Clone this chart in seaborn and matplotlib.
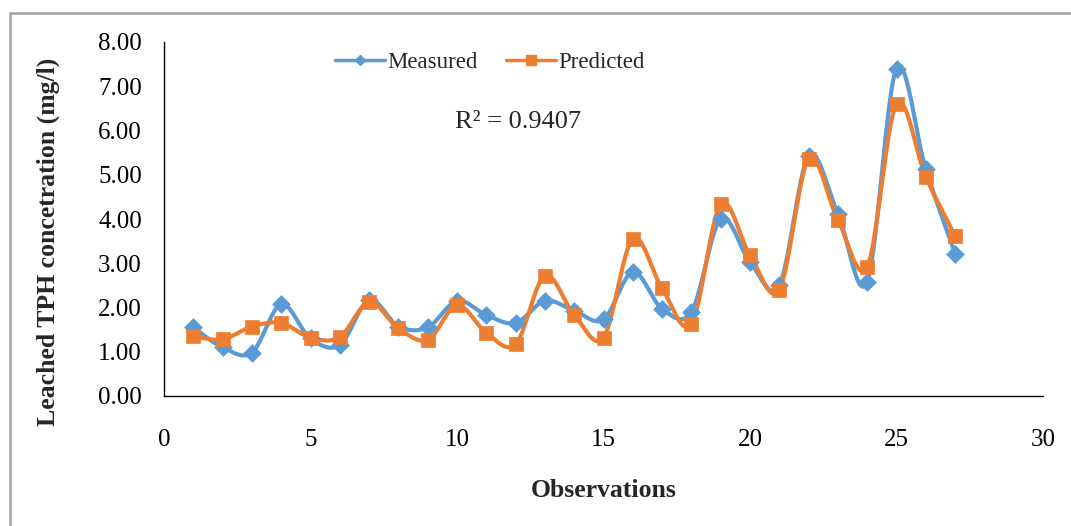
import numpy as np
import pandas as pd
import matplotlib
matplotlib.use("Agg")
import matplotlib.pyplot as plt
from matplotlib.lines import Line2D
from matplotlib.patches import Rectangle
import seaborn as sns

observations = list(range(1, 28))
measured = [1.55, 1.10, 0.98, 2.07, 1.30, 1.15, 2.17, 1.57, 1.55, 2.15,
            1.83, 1.65, 2.15, 1.93, 1.73, 2.80, 1.97, 1.90, 4.00, 3.03,
            2.50, 5.42, 4.12, 2.58, 7.40, 5.12, 3.22]
predicted = [1.35, 1.28, 1.57, 1.65, 1.32, 1.33, 2.12, 1.53, 1.27, 2.05,
             1.43, 1.17, 2.72, 1.83, 1.32, 3.55, 2.43, 1.63, 4.33, 3.18,
             2.40, 5.35, 3.98, 2.92, 6.60, 4.95, 3.62]
r_squared = "0.9407"

BLUE = "#5B9BD5"
ORANGE = "#ED7D31"


def smooth_curve(x, y, steps=30):
    """Catmull-Rom style smoothing through every point (like a smoothed office-chart line)."""
    x = np.asarray(x, float)
    y = np.asarray(y, float)
    px = np.concatenate([[x[0]], x, [x[-1]]])
    py = np.concatenate([[y[0]], y, [y[-1]]])
    xs, ys = [], []
    for i in range(1, len(px) - 2):
        p0 = np.array([px[i - 1], py[i - 1]])
        p1 = np.array([px[i], py[i]])
        p2 = np.array([px[i + 1], py[i + 1]])
        p3 = np.array([px[i + 2], py[i + 2]])
        c1 = p1 + (p2 - p0) / 6.0
        c2 = p2 - (p3 - p1) / 6.0
        t = np.linspace(0, 1, steps, endpoint=(i == len(px) - 3))[:, None]
        pts = ((1 - t) ** 3) * p1 + 3 * ((1 - t) ** 2) * t * c1 + 3 * (1 - t) * t ** 2 * c2 + t ** 3 * p2
        xs.append(pts[:, 0])
        ys.append(pts[:, 1])
    return np.concatenate(xs), np.concatenate(ys)


sns.set_theme(style="white")
plt.rcParams["font.family"] = ["Liberation Serif", "DejaVu Serif"]

fig = plt.figure(figsize=(10.71, 5.26), dpi=100)
ax = fig.add_axes([164 / 1071, 1 - 396 / 526, (1043 - 164) / 1071, (396 - 42) / 526])

series = [("Measured", measured, BLUE, "D", 9),
          ("Predicted", predicted, ORANGE, "s", 10)]
for name, vals, color, marker, msize in series:
    sx, sy = smooth_curve(observations, vals)
    curve = pd.DataFrame({"x": sx, "y": sy})
    sns.lineplot(data=curve, x="x", y="y", sort=False, color=color, lw=3.0,
                 ax=ax, legend=False, zorder=2)
    pts = pd.DataFrame({"x": observations, "y": vals})
    sns.scatterplot(data=pts, x="x", y="y", marker=marker, s=msize ** 2,
                    color=color, edgecolor=color, linewidth=0.5, ax=ax,
                    legend=False, zorder=3)

ax.set_xlim(0, 30)
ax.set_ylim(0, 8)
ax.set_xticks(np.arange(0, 31, 5))
ax.set_yticks(np.arange(0, 8.01, 1))
ax.set_yticklabels([f"{v:.2f}" for v in np.arange(0, 8.01, 1)])

for side in ("top", "right"):
    ax.spines[side].set_visible(False)
for side in ("left", "bottom"):
    ax.spines[side].set_color("black")
    ax.spines[side].set_linewidth(1.0)
ax.tick_params(axis="both", direction="out", length=6, width=1.0,
               color="black", labelsize=18, labelcolor="black")
ax.tick_params(axis="x", pad=18)
ax.tick_params(axis="y", pad=10)
ax.set_facecolor("white")

ax.set_xlabel("Observations", fontsize=18.5, fontweight="bold", labelpad=20)
ax.set_ylabel("Leached TPH concetration (mg/l)", fontsize=18.5, fontweight="bold")
ax.yaxis.set_label_coords(-0.118, 0.435)

handles = [Line2D([0], [0], color=BLUE, lw=2.5, marker="D", markersize=5),
           Line2D([0], [0], color=ORANGE, lw=2.5, marker="s", markersize=7)]
ax.legend(handles, ["Measured", "Predicted"], loc="upper left",
          bbox_to_anchor=(0.171, 1.03), ncol=2, frameon=False, fontsize=16.5,
          handlelength=2.2, handletextpad=0.1, columnspacing=1.2)

ax.text(0.331, 0.775, f"R\u00b2 = {r_squared}", transform=ax.transAxes,
        fontsize=19, ha="left", va="center")

fig.patches.append(Rectangle((10 / 1071, -0.05), 1.2, 1 - 13 / 526 + 0.05,
                             transform=fig.transFigure, fill=False,
                             edgecolor="#A0A0A0", lw=1.8))

fig.savefig("out.png", dpi=100, facecolor="white")
